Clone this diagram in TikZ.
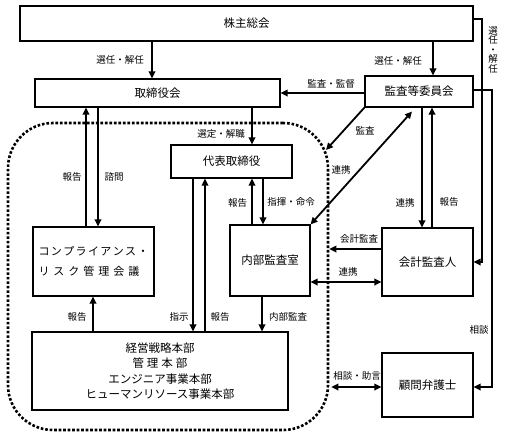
\documentclass[tikz,border=0pt]{standalone}
\usepackage{fontspec}
\setmainfont{Noto Sans CJK JP}
\usetikzlibrary{arrows.meta}
\begin{document}
\begin{tikzpicture}[x=1pt,y=-1pt,
  box/.style={draw, line width=1.1pt, inner sep=0pt, font=\fontsize{11.5}{14}\selectfont, align=center},
  arr/.style={line width=1.8pt, -{Triangle[length=7pt,width=6.5pt]}},
  darr/.style={line width=1.8pt, {Triangle[length=7pt,width=6.5pt]}-{Triangle[length=7pt,width=6.5pt]}},
  plain/.style={line width=1.8pt},
  lbl/.style={font=\fontsize{9.5}{11}\selectfont, inner sep=0pt},
  grpstyle/.style={draw, line width=2.6pt, dash pattern=on 2.6pt off 1.9pt, rounded corners=45pt, inner sep=0pt}]
\useasboundingbox (0,0) rectangle (505,437);

% group
\node[grpstyle, minimum width=320pt, minimum height=307pt] (grp) at (168,276.5) {};

% boxes
\node[box, line width=2pt, minimum width=453pt, minimum height=35pt] (kabu) at (246.5,23.5) {株主総会};
\node[box, minimum width=245pt, minimum height=28pt] (tori) at (157.5,93) {取締役会};
\node[box, minimum width=108pt, minimum height=31pt] (kansa) at (419,91.5) {監査等委員会};
\node[box, minimum width=121pt, minimum height=33pt] (daihyo) at (231.5,161.5) {代表取締役};
\node[box, minimum width=121pt, minimum height=69pt, font=\fontsize{11}{20}\selectfont, align=left] (comp) at (93.5,261.5)
  {\makebox[110pt][s]{コ\hfill ン\hfill プ\hfill ラ\hfill イ\hfill ア\hfill ン\hfill ス\hfill ・}\\
   \makebox[110pt][l]{\makebox[101pt][s]{リ\hfill ス\hfill ク\hfill 管\hfill 理\hfill 会\hfill 議}}};
\node[box, minimum width=80pt, minimum height=71pt] (naibu) at (270,260.5) {内部監査室};
\node[box, minimum width=91pt, minimum height=68pt] (kaikei) at (427.5,262) {会計監査人};
\node[box, minimum width=256pt, minimum height=78pt, font=\fontsize{11.5}{15.5}\selectfont] (keiei) at (160,371)
  {経営戦略本部\\ \makebox[55pt][s]{管\hfill 理\hfill 本\hfill 部}\\ エンジニア事業本部\\ ヒューマンリソース事業本部};
\node[box, minimum width=91pt, minimum height=64pt] (bengo) at (427.5,385) {顧問弁護士};

% helper coordinates
\coordinate (x86) at (86,0);
\coordinate (x93) at (93,0);
\coordinate (x98) at (98,0);
\coordinate (x152) at (152,0);
\coordinate (x193) at (193,0);
\coordinate (x205) at (205,0);
\coordinate (x252) at (252,0);
\coordinate (x263) at (263,0);
\coordinate (x262) at (262,0);
\coordinate (x412) at (412,0);
\coordinate (x422) at (422,0);
\coordinate (x432) at (432,0);
\coordinate (x433) at (433,0);
\coordinate (x482) at (482,0);
\coordinate (x492) at (492,0);
\coordinate (y19) at (0,19);
\coordinate (y90) at (0,90);
\coordinate (y93) at (0,93);
\coordinate (y249) at (0,249);
\coordinate (y262) at (0,262);
\coordinate (y282) at (0,282);
\coordinate (y387) at (0,387);
\coordinate (kansaEnd) at (326,150);

% connectors
\draw[arr] (kabu.south -| x152) -- (tori.north -| x152);
\draw[arr] (kabu.south -| x433) -- (kansa.north -| x433);
\draw[arr] (kabu.east |- y19) -| (x482 |- y262) -- (kaikei.east |- y262);
\draw[arr] (kansa.east |- y90) -| (x492 |- y387) -- (bengo.east |- y387);
\draw[arr] (kansa.west |- y93) -- (tori.east |- y93);
\draw[arr] (comp.north -| x86) -- (tori.south -| x86);
\draw[arr] (tori.south -| x98) -- (comp.north -| x98);
\draw[arr] (tori.south -| x252) -- (daihyo.north -| x252);
\draw[arr] (naibu.north -| x252) -- (daihyo.south -| x252);
\draw[arr] (daihyo.south -| x263) -- (naibu.north -| x263);
\draw[arr] (daihyo.south -| x193) -- (keiei.north -| x193);
\draw[arr] (keiei.north -| x205) -- (daihyo.south -| x205);
\draw[arr] (keiei.north -| x93) -- (comp.south -| x93);
\draw[arr] (naibu.south -| x262) -- (keiei.north -| x262);
\draw[arr] (kansa.south west) -- (kansaEnd);
\draw[darr] (naibu.north east) -- ([yshift=-4pt]kansa.south -| x412);
\draw[arr] (kansa.south -| x422) -- (kaikei.north -| x422);
\draw[arr] (kaikei.north -| x432) -- (kansa.south -| x432);
\draw[arr] (kaikei.west |- y249) -- (grp.east |- y249);
\draw[darr] (naibu.east |- y282) -- (kaikei.west |- y282);
\draw[darr, shorten <=2pt] (grp.east |- y387) -- (bengo.west |- y387);

% labels
\node[lbl] (l1) at (120,60) {選任・解任};
\node[lbl] (l2) at (398,61) {選任・解任};
\node[lbl, align=center, font=\fontsize{9.5}{9.5}\selectfont] (l3) at (493,50) {選\\任\\・\\解\\任};
\node[lbl] (l4) at (331,84) {監査・監督};
\node[lbl] (l5) at (72,177) {報告};
\node[lbl] (l6) at (114,177) {諮問};
\node[lbl] (l7) at (221,134) {選定・解職};
\node[lbl] (l8) at (365,131) {監査};
\node[lbl] (l9) at (341,170) {連携};
\node[lbl] (l10) at (237.5,203) {報告};
\node[lbl] (l11) at (291,202) {指揮・命令};
\node[lbl] (l12) at (405,203) {連携};
\node[lbl] (l13) at (449,202) {報告};
\node[lbl] (l14) at (359,239) {会計監査};
\node[lbl] (l15) at (348,272) {連携};
\node[lbl] (l16) at (77,317) {報告};
\node[lbl] (l17) at (179,317) {指示};
\node[lbl] (l18) at (220,317) {報告};
\node[lbl] (l19) at (288,317) {内部監査};
\node[lbl] (l20) at (479,330) {相談};
\node[lbl] (l21) at (357,376) {相談・助言};
\end{tikzpicture}
\end{document}
